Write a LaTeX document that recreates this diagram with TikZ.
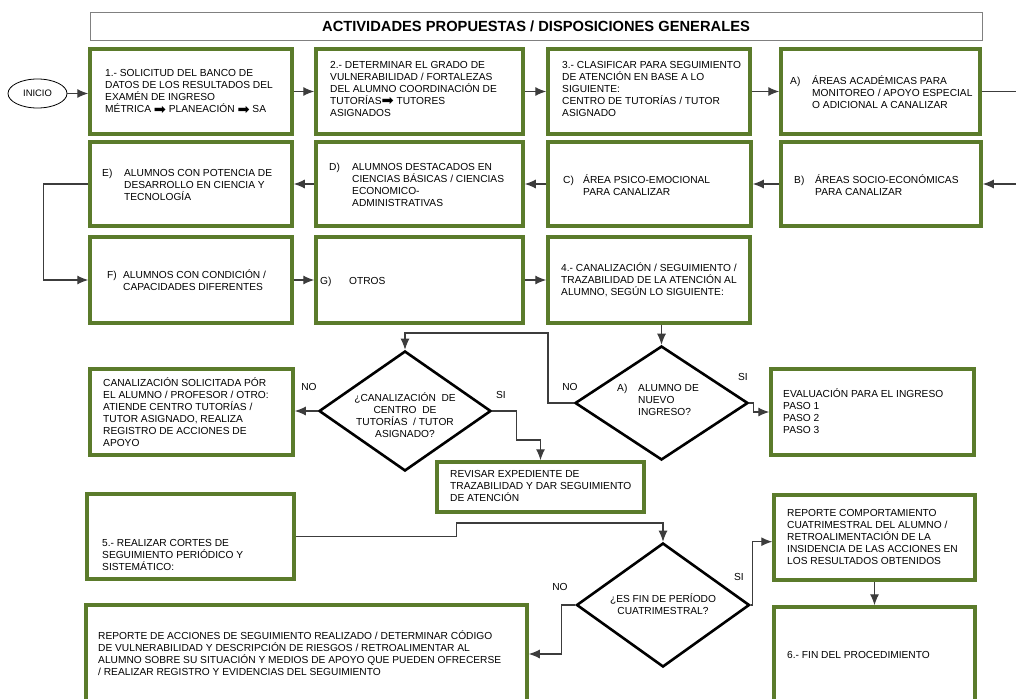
\documentclass[tikz,border=0pt]{standalone}
\usepackage{fontspec}
\setmainfont{Liberation Sans}
\newfontfamily\symfont{DejaVu Sans}
\usepackage{xcolor}
\usepackage{tikz}
\usetikzlibrary{positioning, shapes.geometric, arrows.meta}

\definecolor{boxgreen}{HTML}{5B7B2B}
\definecolor{linegray}{HTML}{3C3C3C}

\newcommand{\rarr}{\raisebox{-1.2pt}{\symfont\fontsize{14.5}{12}\selectfont ➡}}
\newcommand{\lbl}[2]{\makebox[#1pt][l]{#2}}
\newcommand{\ind}[1]{\hspace*{#1pt}}

\begin{document}
\begin{tikzpicture}[x=1pt, y=-1pt,
    box/.style={draw=boxgreen, line width=3.5pt},
    dia/.style={draw, diamond, line width=2.6pt, inner sep=0pt},
    txt/.style={anchor=west, inner sep=0pt, align=left, font=\fontsize{10.2}{12}\selectfont},
    ctxt/.style={inner sep=0pt, align=center, font=\fontsize{10.2}{12}\selectfont},
    arr/.style={draw=linegray, line width=1.1pt, -{Latex[length=11pt,width=9pt]}},
    lin/.style={draw=linegray, line width=1.1pt}]
    \useasboundingbox (0,0) rectangle (1016,698);

    % Title
    \node[draw=gray, line width=0.8pt, minimum width=892, minimum height=28] (title) at (536,26) {};
    \node[ctxt, font=\fontsize{14.7}{16}\selectfont\bfseries] (titlet) at (536,26) {ACTIVIDADES PROPUESTAS / DISPOSICIONES GENERALES};

    % Nodes
    \node[draw, ellipse, line width=0.8pt, minimum width=59, minimum height=29, inner sep=0pt,
          font=\fontsize{9.4}{11}\selectfont] (ini) at (37.5,93.5) {INICIO};

    \node[box, minimum width=202, minimum height=85] (s1) at (191,91.5) {};
    \node[box, minimum width=207, minimum height=85] (s2) at (419.5,91.5) {};
    \node[box, minimum width=202, minimum height=85] (s3) at (649,91.5) {};
    \node[box, minimum width=199, minimum height=85] (ba) at (880.5,91.5) {};

    \node[box, minimum width=202, minimum height=84] (be) at (191,184) {};
    \node[box, minimum width=207, minimum height=84] (bd) at (419.5,184) {};
    \node[box, minimum width=203, minimum height=84] (bc) at (649.5,184) {};
    \node[box, minimum width=200, minimum height=84] (bb) at (881,184) {};

    \node[box, minimum width=202, minimum height=86] (bf) at (191,280) {};
    \node[box, minimum width=207, minimum height=86] (bg) at (419.5,280) {};
    \node[box, minimum width=202, minimum height=86] (s4) at (649,280) {};

    \node[dia, minimum width=172, minimum height=120] (q1) at (405,411) {};
    \node[dia, minimum width=173, minimum height=114] (q2) at (661.5,403) {};
    \node[box, minimum width=203, minimum height=86] (bcan) at (191.5,412) {};
    \node[box, minimum width=207, minimum height=50] (brev) at (540.5,487) {};
    \node[box, minimum width=203, minimum height=86] (bev) at (872.5,412) {};

    \node[box, minimum width=207, minimum height=85] (s5) at (190.5,536.5) {};
    \node[dia, minimum width=173, minimum height=124] (q3) at (663,605) {};
    \node[box, minimum width=201, minimum height=85] (brc) at (874.5,537.5) {};
    \node[box, minimum width=441, minimum height=98] (brep) at (306.5,654) {};
    \node[box, minimum width=201, minimum height=96] (bfin) at (874.5,655) {};

    % Texts
    \node[txt] (t1) at (105,92) {1.- SOLICITUD DEL BANCO DE\\DATOS DE LOS RESULTADOS DEL\\EXAMÉN DE INGRESO\\MÉTRICA \rarr\ PLANEACIÓN \rarr\ SA};
    \node[txt] (t2) at (330,89) {2.- DETERMINAR EL GRADO DE\\VULNERABILIDAD / FORTALEZAS\\DEL ALUMNO COORDINACIÓN DE\\TUTORÍAS\rarr\ TUTORES\\ASIGNADOS};
    \node[txt] (t3) at (562,89) {3.- CLASIFICAR PARA SEGUIMIENTO\\DE ATENCIÓN EN BASE A LO\\SIGUIENTE:\\CENTRO DE TUTORÍAS / TUTOR\\ASIGNADO};
    \node[txt] (ta) at (790,92) {\lbl{22}{A)}ÁREAS ACADÉMICAS PARA\\\ind{22}MONITOREO / APOYO ESPECIAL\\\ind{22}O ADICIONAL A CANALIZAR};

    \node[txt] (te) at (102,185) {\lbl{22}{E)}ALUMNOS CON POTENCIA DE\\\ind{22}DESARROLLO EN CIENCIA Y\\\ind{22}TECNOLOGÍA};
    \node[txt] (td) at (329,184.5) {\lbl{23}{D)}ALUMNOS DESTACADOS EN\\\ind{23}CIENCIAS BÁSICAS / CIENCIAS\\\ind{23}ECONOMICO-\\\ind{23}ADMINISTRATIVAS};
    \node[txt] (tc) at (563,185) {\lbl{20}{C)}ÁREA PSICO-EMOCIONAL\\\ind{20}PARA CANALIZAR};
    \node[txt] (tb) at (794,185) {\lbl{21}{B)}ÁREAS SOCIO-ECONÓMICAS\\\ind{21}PARA CANALIZAR};

    \node[txt] (tf) at (107,280) {\lbl{16}{F)}ALUMNOS CON CONDICIÓN /\\\ind{16}CAPACIDADES DIFERENTES};
    \node[txt] (tg) at (320,282) {\lbl{29}{G)}OTROS};
    \node[txt] (t4) at (561,280) {4.- CANALIZACIÓN / SEGUIMIENTO /\\TRAZABILIDAD DE LA ATENCIÓN AL\\ALUMNO, SEGÚN LO SIGUIENTE:};

    \node[txt] (tcan) at (103,412) {CANALIZACIÓN SOLICITADA PÓR\\EL ALUMNO / PROFESOR / OTRO:\\ATIENDE CENTRO TUTORÍAS /\\TUTOR ASIGNADO, REALIZA\\REGISTRO DE ACCIONES DE\\APOYO};
    \node[ctxt] (tq1) at (405,415) {¿CANALIZACIÓN\ \ DE\\CENTRO\ \ DE\\TUTORÍAS\ \ / TUTOR\\ASIGNADO?};
    \node[txt] (tq2) at (617,400) {\lbl{21}{A)}ALUMNO DE\\\ind{21}NUEVO\\\ind{21}INGRESO?};
    \node[txt] (tev) at (783,411) {EVALUACIÓN PARA EL INGRESO\\PASO 1\\PASO 2\\PASO 3};
    \node[txt] (trev) at (450,486) {REVISAR EXPEDIENTE DE\\TRAZABILIDAD Y DAR SEGUIMIENTO\\DE ATENCIÓN};

    \node[txt] (t5) at (102,555) {5.- REALIZAR CORTES DE\\SEGUIMIENTO PERIÓDICO Y\\SISTEMÁTICO:};
    \node[ctxt] (tq3) at (663,604) {¿ES FIN DE PERÍODO\\CUATRIMESTRAL?};
    \node[txt] (trc) at (787,537) {REPORTE COMPORTAMIENTO\\CUATRIMESTRAL DEL ALUMNO /\\RETROALIMENTACIÓN DE LA\\INSIDENCIA DE LAS ACCIONES EN\\LOS RESULTADOS OBTENIDOS};
    \node[txt] (trep) at (98,653.5) {REPORTE DE ACCIONES DE SEGUIMIENTO REALIZADO / DETERMINAR CÓDIGO\\DE VULNERABILIDAD Y DESCRIPCIÓN DE RIESGOS / RETROALIMENTAR AL\\ALUMNO SOBRE SU SITUACIÓN Y MEDIOS DE APOYO QUE PUEDEN OFRECERSE\\/ REALIZAR REGISTRO Y EVIDENCIAS DEL SEGUIMIENTO};
    \node[txt] (tfin) at (787,655) {6.- FIN DEL PROCEDIMIENTO};

    % Labels
    \node[ctxt] (no1) at (309,387) {NO};
    \node[ctxt] (si1) at (501,395) {SI};
    \node[ctxt] (no2) at (570,387) {NO};
    \node[ctxt] (si2) at (743,377) {SI};
    \node[ctxt] (no3) at (560,587) {NO};
    \node[ctxt] (si3) at (739,577) {SI};

    % Arrows
    \draw[arr] (ini.east) -- (ini.east -| s1.west);
    \draw[arr] (s1) -- (s2);
    \draw[arr] (s2) -- (s3);
    \draw[arr] (s3) -- (ba);
    \draw[arr] (ba.east) -- ++(45,0) |- (bb.east);
    \draw[arr] (bb) -- (bc);
    \draw[arr] (bc) -- (bd);
    \draw[arr] (bd) -- (be);
    \draw[arr] (be.west) -- ++(-45,0) |- (bf.west);
    \draw[arr] (bf) -- (bg);
    \draw[arr] (bg) -- (s4);
    \draw[arr] (s4.south -| q2.north) -- (q2.north);

    \coordinate (k2) at (548,333);
    \draw[arr] (q2.west) -| (k2) -| (q1.north);
    \draw[arr] (q2.east) -- ++(4,0) |- (bev.west);
    \draw[arr] (q1.west) -- (q1.west -| bcan.east);
    \draw[arr] (q1.east) -- ++(24,0) -- ++(0,29) -| (brev.north);

    \draw[arr] (s5.east) -- ++(161,0) -- ++(0,-13.5) -| (q3.north);
    \draw[arr] (q3.east) -- ++(2,0) |- (brc.west |- q3.north);
    \draw[arr] (q3.west) -- ++(-14,0) |- (brep.east);
    \draw[arr] (brc) -- (bfin);
\end{tikzpicture}
\end{document}
